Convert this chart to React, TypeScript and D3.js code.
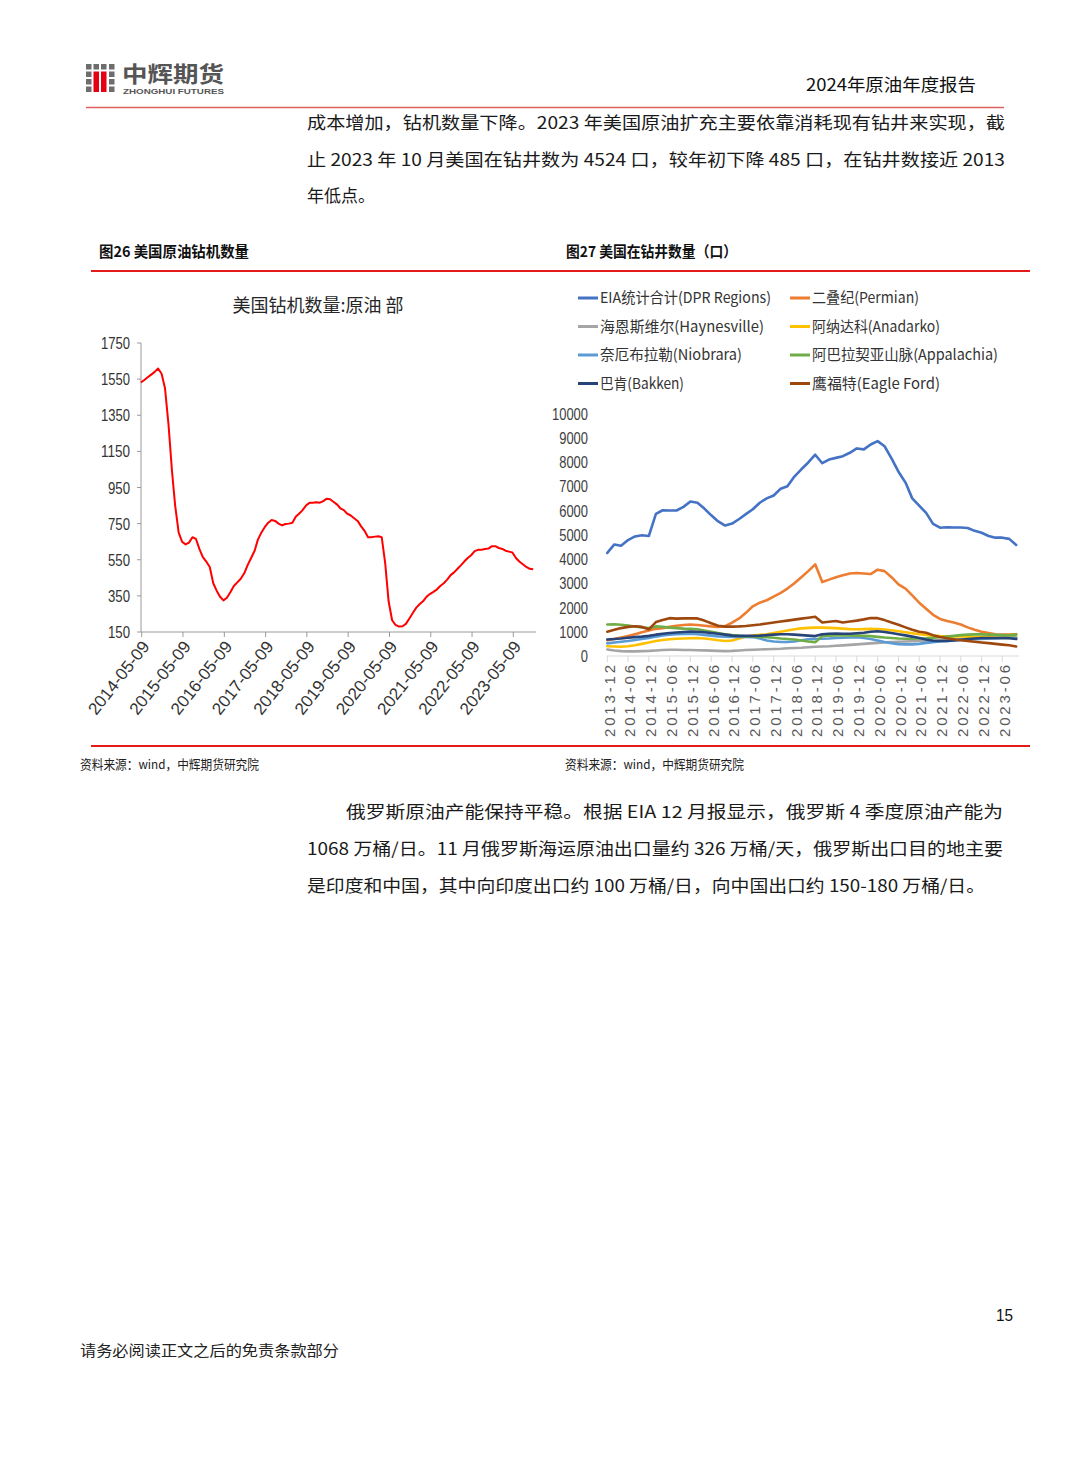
import React from "react";
import * as d3 from "d3";

const CJK = "'Noto Sans CJK SC', 'Noto Sans', sans-serif";
const NARROW = "'Liberation Sans Narrow', 'Liberation Sans', Arial, sans-serif";
const SANS = "'Liberation Sans', Arial, sans-serif";

// ---------- Figure 26: US crude oil rig count ----------
const rigDates = [
  "2014-05","2014-06","2014-07","2014-08","2014-09","2014-10","2014-11","2014-12",
  "2015-01","2015-02","2015-03","2015-04","2015-05","2015-06","2015-07","2015-08","2015-09","2015-10","2015-11","2015-12",
  "2016-01","2016-02","2016-03","2016-04","2016-05","2016-06","2016-07","2016-08","2016-09","2016-10","2016-11","2016-12",
  "2017-01","2017-02","2017-03","2017-04","2017-05","2017-06","2017-07","2017-08","2017-09","2017-10","2017-11","2017-12",
  "2018-01","2018-02","2018-03","2018-04","2018-05","2018-06","2018-07","2018-08","2018-09","2018-10","2018-11","2018-12",
  "2019-01","2019-02","2019-03","2019-04","2019-05","2019-06","2019-07","2019-08","2019-09","2019-10","2019-11","2019-12",
  "2020-01","2020-02","2020-03","2020-04","2020-05","2020-06","2020-07","2020-08","2020-09","2020-10","2020-11","2020-12",
  "2021-01","2021-02","2021-03","2021-04","2021-05","2021-06","2021-07","2021-08","2021-09","2021-10","2021-11","2021-12",
  "2022-01","2022-02","2022-03","2022-04","2022-05","2022-06","2022-07","2022-08","2022-09","2022-10","2022-11","2022-12",
  "2023-01","2023-02","2023-03","2023-04","2023-05","2023-06","2023-07","2023-08","2023-09","2023-10","2023-11",
];
const rigCounts = [
  1531, 1545, 1560, 1575, 1590, 1609, 1580, 1500,
  1300, 1040, 850, 700, 650, 635, 645, 675, 665, 610, 565, 540,
  510, 420, 380, 345, 325, 340, 370, 405, 425, 445, 475, 520,
  560, 600, 660, 700, 730, 755, 770, 765, 750, 740, 748, 750,
  755, 790, 805, 825, 850, 865, 865, 868, 866, 875, 888, 885,
  870, 855, 835, 825, 805, 795, 780, 765, 735, 710, 675, 675,
  678, 680, 675, 530, 320, 215, 190, 180, 182, 195, 225, 255,
  285, 305, 320, 345, 360, 372, 385, 405, 420, 440, 465, 480,
  500, 520, 540, 560, 575, 598, 605, 605, 610, 612, 625, 625,
  615, 610, 600, 595, 590, 560, 540, 525, 510, 500, 498,
];
const rigXTicks = [
  "2014-05-09","2015-05-09","2016-05-09","2017-05-09","2018-05-09",
  "2019-05-09","2020-05-09","2021-05-09","2022-05-09","2023-05-09",
];
const rigYTicks = [150, 350, 550, 750, 950, 1150, 1350, 1550, 1750];
const rigTitle = "美国钻机数量:原油 部";

// ---------- Figure 27: US drilled wells (DPR regions) ----------
const wellDates = [
  "2013-12","2014-02","2014-04","2014-06","2014-08","2014-10","2014-12","2015-02","2015-04","2015-06",
  "2015-08","2015-10","2015-12","2016-02","2016-04","2016-06","2016-08","2016-10","2016-12","2017-02",
  "2017-04","2017-06","2017-08","2017-10","2017-12","2018-02","2018-04","2018-06","2018-08","2018-10",
  "2018-12","2019-02","2019-04","2019-06","2019-08","2019-10","2019-12","2020-02","2020-04","2020-06",
  "2020-08","2020-10","2020-12","2021-02","2021-04","2021-06","2021-08","2021-10","2021-12","2022-02",
  "2022-04","2022-06","2022-08","2022-10","2022-12","2023-02","2023-04","2023-06","2023-08","2023-10",
];
const totalDPR = [
  4250,4600,4550,4780,4930,4980,4950,5860,6010,6000,
  6000,6150,6370,6320,6080,5800,5550,5380,5460,5650,
  5850,6050,6320,6500,6620,6900,7000,7400,7700,7980,
  8300,7950,8100,8170,8240,8380,8560,8520,8720,8860,
  8650,8150,7600,7150,6500,6200,5900,5450,5290,5310,
  5300,5300,5280,5160,5080,4950,4880,4880,4830,4580,
];
const permian = [
  650,700,760,820,900,980,1050,1120,1150,1200,
  1250,1280,1300,1280,1250,1220,1200,1230,1380,1550,
  1780,2050,2200,2300,2450,2600,2780,3000,3250,3500,
  3780,3050,3150,3250,3330,3400,3420,3400,3380,3560,
  3500,3250,2950,2780,2500,2200,1950,1700,1530,1440,
  1380,1300,1180,1080,1000,950,900,880,880,900,
];
const haynesville = [
  270,230,200,190,190,200,210,230,250,260,
  260,250,250,240,230,220,210,200,210,230,
  250,260,270,280,290,300,320,330,340,360,
  380,390,400,420,440,460,480,500,520,540,
  560,580,590,600,610,620,630,640,650,660,
  680,690,700,710,720,720,720,730,740,740,
];
const anadarko = [
  400,390,380,400,440,500,560,620,660,690,
  710,720,730,740,720,690,650,620,640,720,
  800,840,870,900,950,1000,1050,1100,1140,1160,
  1170,1170,1160,1150,1130,1110,1100,1110,1120,1110,
  1090,1060,1020,980,940,900,870,840,820,810,
  810,810,800,790,780,770,760,760,770,780,
];
const niobrara = [
  520,560,590,620,660,700,740,800,850,880,
  900,910,920,900,870,840,810,800,790,790,
  790,780,720,640,600,580,580,600,650,690,
  700,710,720,740,750,760,770,740,700,640,
  580,530,490,480,480,500,540,570,600,620,
  640,660,680,690,700,720,730,740,750,750,
];
const appalachia = [
  1300,1310,1290,1260,1220,1180,1150,1220,1200,1170,
  1150,1130,1120,1100,1050,1000,950,900,860,830,
  810,800,790,770,750,720,700,680,640,600,
  570,820,840,850,850,850,840,830,820,790,
  760,740,720,710,710,720,730,750,770,800,
  830,860,880,890,890,880,870,860,850,880,
];
const bakken = [
  680,700,720,750,780,800,830,880,920,950,
  970,990,1010,1000,980,950,920,880,840,830,
  830,830,840,860,880,900,900,880,860,840,
  820,900,920,930,920,920,940,960,1000,1020,
  990,950,900,850,800,740,680,630,620,620,
  640,670,700,720,740,740,740,740,730,700,
];
const eagleFord = [
  1000,1080,1150,1200,1230,1200,1100,1400,1480,1560,
  1540,1550,1550,1550,1460,1350,1250,1210,1210,1220,
  1240,1270,1300,1340,1380,1420,1460,1500,1540,1580,
  1620,1380,1410,1440,1380,1420,1460,1510,1570,1560,
  1480,1380,1290,1180,1080,1000,960,860,780,730,
  690,650,620,590,560,530,500,470,440,390,
];
const wellSeriesNames = [
  "EIA统计合计(DPR Regions)","二叠纪(Permian)","海恩斯维尔(Haynesville)","阿纳达科(Anadarko)",
  "奈厄布拉勒(Niobrara)","阿巴拉契亚山脉(Appalachia)","巴肯(Bakken)","鹰福特(Eagle Ford)",
];
const wellSeriesValues = [totalDPR, permian, haynesville, anadarko, niobrara, appalachia, bakken, eagleFord];
const wellXTicks = [
  "2013-12","2014-06","2014-12","2015-06","2015-12","2016-06","2016-12","2017-06","2017-12","2018-06",
  "2018-12","2019-06","2019-12","2020-06","2020-12","2021-06","2021-12","2022-06","2022-12","2023-06",
];
const wellYTicks = [0,1000,2000,3000,4000,5000,6000,7000,8000,9000,10000];

// ---------- styles (not data) ----------
const seriesColors = ["#4472c4","#ed7d31","#a5a5a5","#ffc000","#5b9bd5","#70ad47","#264478","#9e480e"];
const legendTextWidths = [171,107,164,128,142,186,84,128];

const parseMonth = d3.timeParse("%Y-%m");
const parseDay = d3.timeParse("%Y-%m-%d");

function RigChart() {
  const x = d3.scaleTime().domain([parseDay("2014-05-09")!, parseDay("2023-05-09")!]).range([141.7, 513.3]);
  const y = d3.scaleLinear().domain([150, 1750]).range([632, 343]);
  const pts: [number, number][] = rigCounts.map((v, i) => [x(parseMonth(rigDates[i])!), y(v)]);
  const path = d3.line()(pts) || "";
  const axisColor = "#9a9a9a";
  return (
    <g>
      <text x={318} y={312} textAnchor="middle" fontFamily={CJK} fontSize={18} fill="#262626"
        textLength={171} lengthAdjust="spacingAndGlyphs">{rigTitle}</text>
      <line x1={141} x2={141} y1={343} y2={632} stroke={axisColor} strokeWidth={1} />
      <line x1={141} x2={536} y1={632} y2={632} stroke={axisColor} strokeWidth={1} />
      {rigYTicks.map((t) => (
        <g key={t}>
          <line x1={137} x2={141} y1={y(t)} y2={y(t)} stroke={axisColor} />
          <text x={130} y={y(t)} dy="0.36em" textAnchor="end" fontFamily={NARROW} fontSize={17} fill="#333"
            textLength={t >= 1000 ? 29 : 22} lengthAdjust="spacingAndGlyphs">{t}</text>
        </g>
      ))}
      {rigXTicks.map((t) => {
        const xx = x(parseDay(t)!);
        return (
          <g key={t}>
            <line x1={xx} x2={xx} y1={632} y2={637} stroke={axisColor} />
            <text transform={`translate(${xx + 4},${643}) rotate(-52)`} textAnchor="end" dy="0.35em"
              fontFamily={NARROW} fontSize={17} fill="#333" textLength={88} lengthAdjust="spacingAndGlyphs">{t}</text>
          </g>
        );
      })}
      <path d={path} fill="none" stroke="#ff0000" strokeWidth={2} strokeLinejoin="round" />
    </g>
  );
}

function WellChart() {
  const x = d3.scaleTime().domain([parseMonth("2013-12")!, parseMonth("2023-06")!]).range([607.3, 1002.3]);
  const y = d3.scaleLinear().domain([0, 10000]).range([656, 413.5]);
  const dates = wellDates.map((d) => parseMonth(d)!);
  const line = d3.line<number>().x((_, i) => x(dates[i])).y((v) => y(v));
  const legendPos = wellSeriesNames.map((_, i) => ({ x: 578 + (i % 2) * 212, y: 298 + Math.floor(i / 2) * 28.5 }));
  return (
    <g>
      {wellSeriesNames.map((n, i) => (
        <g key={n}>
          <line x1={legendPos[i].x} x2={legendPos[i].x + 20} y1={legendPos[i].y} y2={legendPos[i].y}
            stroke={seriesColors[i]} strokeWidth={3} />
          <text x={legendPos[i].x + 22} y={legendPos[i].y} dy="0.36em" fontFamily={CJK} fontSize={15} fill="#333"
            textLength={legendTextWidths[i]} lengthAdjust="spacingAndGlyphs">{n}</text>
        </g>
      ))}
      {wellYTicks.map((t) => (
        <text key={t} x={588} y={y(t)} dy="0.36em" textAnchor="end" fontFamily={NARROW} fontSize={17} fill="#404040"
          textLength={String(t).length * 7.2} lengthAdjust="spacingAndGlyphs">{t}</text>
      ))}
      <line x1={607} x2={1019} y1={656} y2={656} stroke="#d9d9d9" strokeWidth={1} />
      {wellXTicks.map((t) => {
        const xx = x(parseMonth(t)!);
        return (
          <g key={t}>
            <line x1={xx} x2={xx} y1={656} y2={662} stroke="#d9d9d9" />
            <text transform={`translate(${xx + 2},${665}) rotate(-90)`} textAnchor="end" dy="0.35em"
              fontFamily={SANS} fontSize={15} fill="#595959" textLength={72} lengthAdjust="spacing">{t}</text>
          </g>
        );
      })}
      {wellSeriesValues.map((vals, i) => (
        <path key={i} d={line(vals) || ""} fill="none" stroke={seriesColors[i]} strokeWidth={2.6}
          strokeLinejoin="round" strokeLinecap="round" />
      ))}
    </g>
  );
}

function Logo() {
  const cols = [86, 93.5, 101, 109];
  const rows = [64, 71.5, 79, 86.5];
  return (
    <g>
      {cols.map((cx, ci) =>
        rows.map((ry, ri) => {
          const red = (ci === 1 || ci === 2) && ri > 0;
          if (red) return null;
          return <rect key={`${ci}-${ri}`} x={cx} y={ry} width={5.5} height={5.5} fill="#6d6d6d" />;
        })
      )}
      <rect x={93.5} y={71.5} width={5.5} height={20.5} fill="#e60012" />
      <rect x={101} y={71.5} width={5.5} height={20.5} fill="#e60012" />
      <text x={122} y={82} fontFamily={CJK} fontWeight={700} fontSize={22} fill="#555"
        textLength={102} lengthAdjust="spacingAndGlyphs">中辉期货</text>
      <text x={123} y={94} fontFamily={SANS} fontWeight={700} fontSize={7.5} fill="#555"
        textLength={101} lengthAdjust="spacingAndGlyphs">ZHONGHUI FUTURES</text>
    </g>
  );
}

function T({ x, y, w, size = 17, children, anchor = "start", fill = "#1a1a1a", weight = 400, family = CJK }: any) {
  return (
    <text x={x} y={y} fontFamily={family} fontSize={size} fill={fill} fontWeight={weight} textAnchor={anchor}
      textLength={w} lengthAdjust="spacingAndGlyphs">{children}</text>
  );
}

export default function App() {
  return (
    <div style={{ position: "absolute", left: 0, top: 0, background: "#fff" }}>
      <svg width={1080} height={1466} viewBox="0 0 1080 1466" style={{ display: "block" }}>
        <rect x={0} y={0} width={1080} height={1466} fill="#fff" />
        <Logo />
        <T x={806} y={91} w={170} size={17} fill="#111">2024年原油年度报告</T>
        <line x1={86} x2={1004} y1={107.5} y2={107.5} stroke="#e06060" strokeWidth={1.5} />

        <T x={307} y={129} w={698}>成本增加，钻机数量下降。2023 年美国原油扩充主要依靠消耗现有钻井来实现，截</T>
        <T x={307} y={166} w={698}>止 2023 年 10 月美国在钻井数为 4524 口，较年初下降 485 口，在钻井数接近 2013</T>
        <T x={307} y={202} w={68}>年低点。</T>

        <T x={99} y={257} w={150} size={15} weight={600} fill="#111">图26 美国原油钻机数量</T>
        <T x={566} y={257} w={171} size={15} weight={600} fill="#111">图27 美国在钻井数量（口）</T>
        <line x1={91} x2={1030} y1={271} y2={271} stroke="#e31b1b" strokeWidth={2} />

        <RigChart />
        <WellChart />

        <line x1={91} x2={1030} y1={746} y2={746} stroke="#e31b1b" strokeWidth={2} />
        <T x={80} y={769} w={179} size={13} fill="#222">资料来源：wind，中辉期货研究院</T>
        <T x={565} y={769} w={179} size={13} fill="#222">资料来源：wind，中辉期货研究院</T>

        <T x={346} y={818} w={657}>俄罗斯原油产能保持平稳。根据 EIA 12 月报显示，俄罗斯 4 季度原油产能为</T>
        <T x={307} y={855} w={696}>1068 万桶/日。11 月俄罗斯海运原油出口量约 326 万桶/天，俄罗斯出口目的地主要</T>
        <T x={307} y={892} w={678}>是印度和中国，其中向印度出口约 100 万桶/日，向中国出口约 150-180 万桶/日。</T>

        <T x={996} y={1321} w={17} size={16} family={SANS} fill="#111">15</T>
        <T x={80} y={1356} w={259} size={15} fill="#222">请务必阅读正文之后的免责条款部分</T>
      </svg>
    </div>
  );
}
